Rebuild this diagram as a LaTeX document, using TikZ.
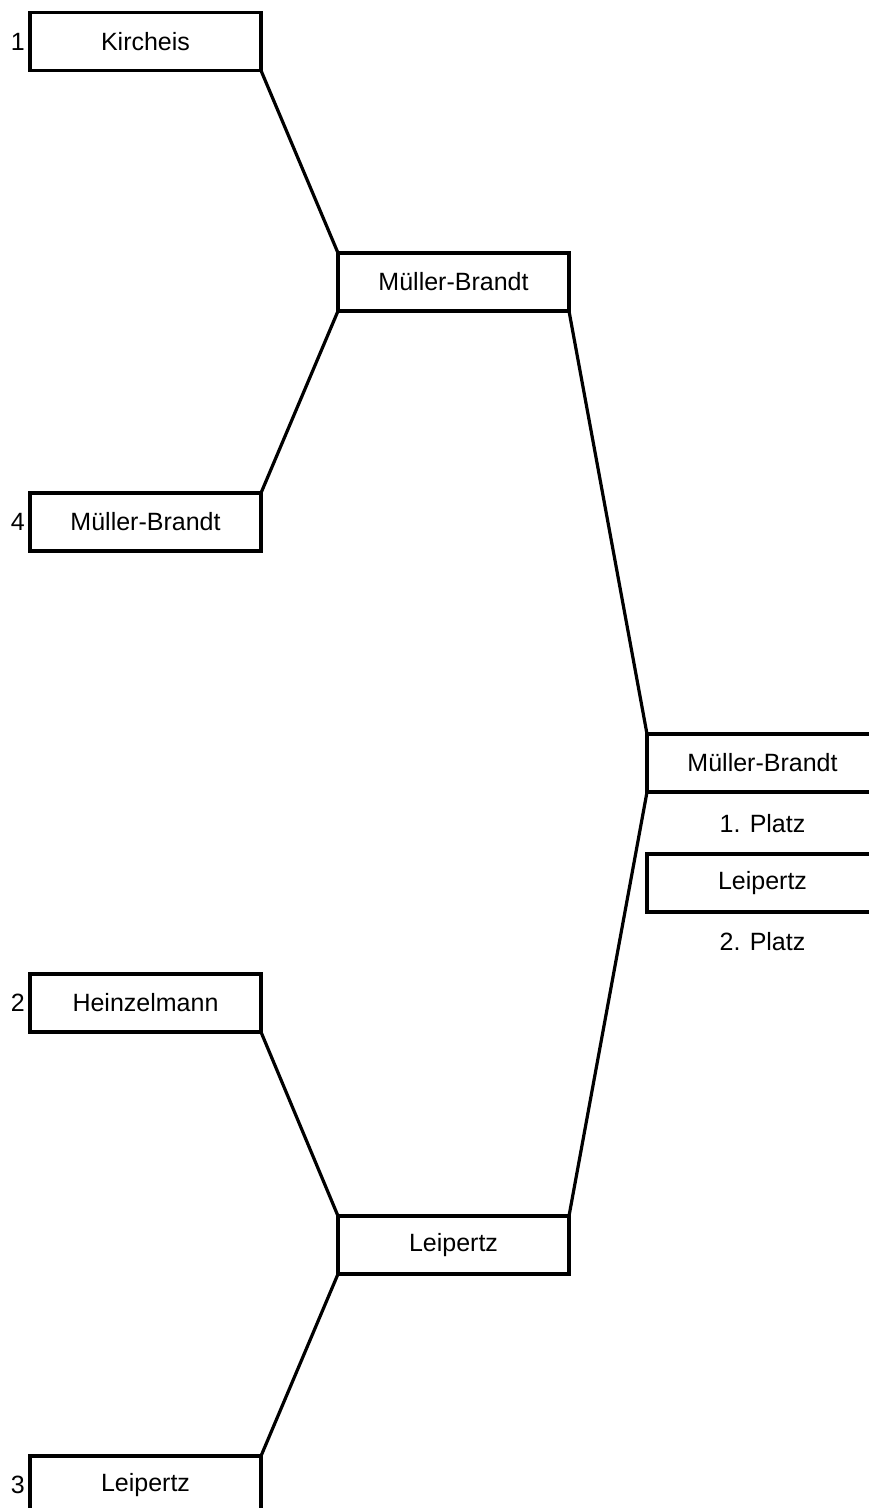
\documentclass[tikz,border=0pt]{standalone}
\usepackage{fontspec}
\setmainfont{Liberation Sans}
\begin{document}
\begin{tikzpicture}[x=1pt,y=-1pt,
  team/.style={draw, line width=3.2pt, minimum width=231pt, minimum height=58pt, inner sep=0pt, outer sep=0pt, font=\fontsize{25}{28}\selectfont, fill=white},
  seed/.style={anchor=east, inner sep=0pt, xshift=-5pt, font=\fontsize{25}{28}\selectfont},
  place/.style={inner sep=0pt, font=\fontsize{25}{28}\selectfont},
  link/.style={line width=3.2pt}]
\useasboundingbox (0,0) rectangle (869,1508);
\clip (0,0) rectangle (869,1508);
\node[team] (k) at (145.5,41.5) {Kircheis};
\node[team] (m4) at (145.5,522) {Müller-Brandt};
\node[team] (h) at (145.5,1003) {Heinzelmann};
\node[team] (l3) at (145.5,1485) {Leipertz};
\node[team] (sm) at (453.5,282) {Müller-Brandt};
\node[team] (sl) at (453.5,1245) {Leipertz};
\node[team] (fm) at (762.5,763) {Müller-Brandt};
\node[team] (fl) at (762.5,883) {Leipertz};
\node[place] (p1) at (762.5,824) {1. Platz};
\node[place] (p2) at (762.5,942) {2. Platz};
\node[seed] (s1) at (k.west) {1};
\node[seed] (s4) at (m4.west) {4};
\node[seed] (s2) at (h.west) {2};
\node[seed] (s3) at (l3.west) {3};
\draw[link] (k.south east) -- (sm.north west);
\draw[link] (sm.south west) -- (m4.north east);
\draw[link] (h.south east) -- (sl.north west);
\draw[link] (sl.south west) -- (l3.north east);
\draw[link] (sm.south east) -- (fm.north west);
\draw[link] (sl.north east) -- (fm.south west);
\end{tikzpicture}
\end{document}
